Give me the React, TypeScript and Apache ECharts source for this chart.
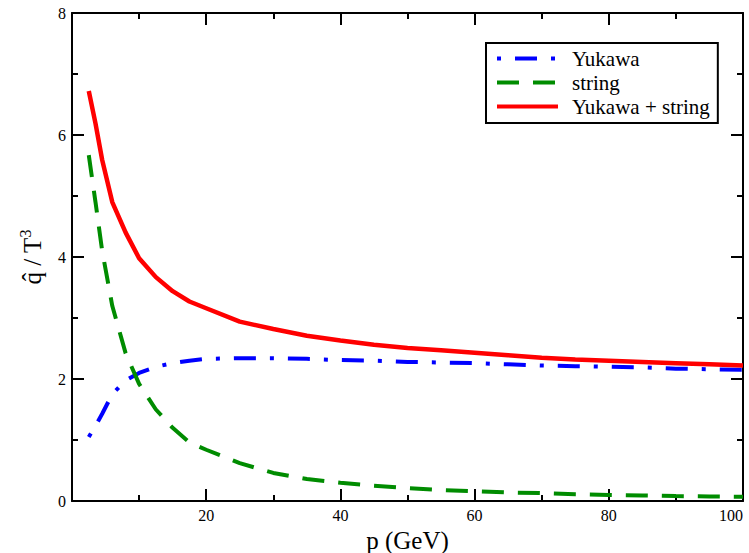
import React, { useEffect, useRef } from "react";
import * as echarts from "echarts";

const pValues = [2.5, 3.5, 4.5, 6, 8, 10, 12.5, 15, 17.5, 20, 25, 30, 35, 40, 45, 50, 55, 60, 65, 70, 75, 80, 85, 90, 95, 100];
const yukawa = [1.05, 1.23, 1.43, 1.75, 1.98, 2.1, 2.2, 2.26, 2.3, 2.33, 2.34, 2.34, 2.33, 2.31, 2.3, 2.28, 2.27, 2.26, 2.24, 2.22, 2.21, 2.2, 2.19, 2.17, 2.16, 2.15];
const stringVals = [5.67, 4.9, 4.1, 3.2, 2.42, 1.92, 1.5, 1.2, 0.96, 0.84, 0.62, 0.46, 0.36, 0.3, 0.25, 0.21, 0.18, 0.16, 0.14, 0.13, 0.11, 0.1, 0.09, 0.08, 0.075, 0.07];
const combined = [6.72, 6.19, 5.59, 4.9, 4.4, 3.98, 3.67, 3.44, 3.27, 3.16, 2.94, 2.82, 2.71, 2.63, 2.56, 2.51, 2.47, 2.43, 2.39, 2.35, 2.32, 2.3, 2.28, 2.26, 2.24, 2.22];
const seriesNames = ["Yukawa", "string", "Yukawa + string"];
const xTitle = "p (GeV)";

const FONT = "Liberation Serif";

const pairs = (ys: number[]) => pValues.map((p, i) => [p, ys[i]]);

const mkLine = () => ({ show: true, onZero: false, lineStyle: { color: "#000", width: 2 } });
const mkTick = () => ({ show: true, inside: true, length: 12, lineStyle: { color: "#000", width: 2 } });
const mkMinor = () => ({ show: true, splitNumber: 2, length: 6, lineStyle: { color: "#000", width: 2 } });

export default function App() {
  const ref = useRef<HTMLDivElement>(null);
  useEffect(() => {
    if (!ref.current) return;
    const chart = echarts.init(ref.current, null, { renderer: "svg" });
    chart.setOption({
      animation: false,
      backgroundColor: "#fff",
      textStyle: { fontFamily: FONT },
      grid: { left: 72, top: 13, right: 6, bottom: 52, containLabel: false, outerBoundsMode: "none" },
      legend: {
        orient: "vertical",
        left: 486,
        top: 43,
        borderColor: "#000",
        borderWidth: 2,
        borderRadius: 0,
        padding: [5, 8, 6, 9],
        itemWidth: 61,
        itemHeight: 14,
        itemGap: 3,
        data: seriesNames,
        itemStyle: { opacity: 0 },
        lineStyle: { width: 4, opacity: 1, dashOffset: 36 },
        textStyle: { fontFamily: FONT, fontSize: 21, lineHeight: 20, color: "#000", padding: [0, 0, 0, 9] },
      },
      xAxis: [
        {
          type: "value",
          min: 0,
          max: 100,
          interval: 20,
          position: "bottom",
          name: xTitle,
          nameLocation: "middle",
          nameGap: 14,
          nameTextStyle: { fontFamily: FONT, fontSize: 25, color: "#000" },
          axisLine: mkLine(),
          axisTick: mkTick(),
          minorTick: mkMinor(),
          splitLine: { show: false },
          axisLabel: {
            fontFamily: FONT,
            fontSize: 16,
            color: "#000",
            margin: 6,
            alignMaxLabel: "right",
            formatter: (v: number) => (v === 0 ? "" : String(v)),
          },
        },
        {
          type: "value",
          min: 0,
          max: 100,
          interval: 20,
          position: "top",
          axisLine: mkLine(),
          axisTick: mkTick(),
          minorTick: mkMinor(),
          splitLine: { show: false },
          axisLabel: { show: false },
        },
      ],
      yAxis: [
        {
          type: "value",
          min: 0,
          max: 8,
          interval: 2,
          position: "left",
          name: "{a|q\u0302 / T}{s|3}",
          nameLocation: "middle",
          nameRotate: 90,
          nameGap: 25,
          nameTextStyle: {
            fontFamily: FONT,
            fontSize: 25,
            color: "#000",
            rich: {
              a: { fontFamily: FONT, fontSize: 25, color: "#000", lineHeight: 30 },
              s: { fontFamily: FONT, fontSize: 16, color: "#000", verticalAlign: "top", lineHeight: 30, padding: [0, 0, 10, 0] },
            },
          },
          axisLine: mkLine(),
          axisTick: mkTick(),
          minorTick: mkMinor(),
          splitLine: { show: false },
          axisLabel: { fontFamily: FONT, fontSize: 16, color: "#000", margin: 6 },
        },
        {
          type: "value",
          min: 0,
          max: 8,
          interval: 2,
          position: "right",
          axisLine: mkLine(),
          axisTick: mkTick(),
          minorTick: mkMinor(),
          splitLine: { show: false },
          axisLabel: { show: false },
        },
      ],
      series: [
        {
          name: seriesNames[0],
          type: "line",
          data: pairs(yukawa),
          symbol: "none",
          lineStyle: { color: "#0000ff", width: 4, type: [22, 14, 4, 14], dashOffset: 36, cap: "butt" },
          itemStyle: { color: "#0000ff" },
          z: 3,
        },
        {
          name: seriesNames[1],
          type: "line",
          data: pairs(stringVals),
          symbol: "none",
          lineStyle: { color: "#008c00", width: 4, type: [22, 14], cap: "butt" },
          itemStyle: { color: "#008c00" },
          z: 3,
        },
        {
          name: seriesNames[2],
          type: "line",
          data: pairs(combined),
          symbol: "none",
          lineStyle: { color: "#ff0000", width: 4.5, type: "solid" },
          itemStyle: { color: "#ff0000" },
          z: 4,
        },
      ],
    });
    return () => chart.dispose();
  }, []);
  return <div ref={ref} style={{ position: "fixed", left: 0, top: 0, width: 749, height: 553 }} />;
}
